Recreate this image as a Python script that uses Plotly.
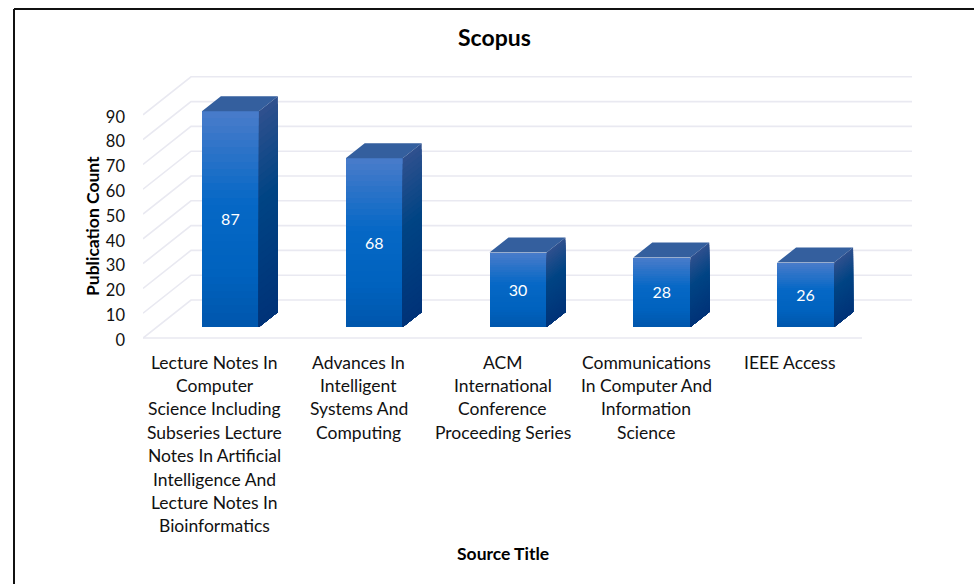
import plotly.graph_objects as go

# ---- data ----
category_lines = [
    ["Lecture Notes In", "Computer", "Science Including", "Subseries Lecture",
     "Notes In Artificial", "Intelligence And", "Lecture Notes In", "Bioinformatics"],
    ["Advances In", "Intelligent", "Systems And", "Computing"],
    ["ACM", "International", "Conference", "Proceeding Series"],
    ["Communications", "In Computer And", "Information", "Science"],
    ["IEEE Access"],
]
publication_counts = [87, 68, 30, 28, 26]
y_ticks = [0, 10, 20, 30, 40, 50, 60, 70, 80, 90]

# ---- geometry of the oblique projection ----
W, H = 974, 584
PX_X = 143.8           # pixels per category
PX_Y = 2.48            # pixels per count
L, R, T, B = 143, 912, 70, 346   # plot box, a little wider than the drawing
ZERO_PX = 338                    # pixel row of count 0
x_lo = -0.5
x_hi = x_lo + (R - L) / PX_X
y_lo = (ZERO_PX - B) / PX_Y
y_hi = (ZERO_PX - T) / PX_Y
WALL_DX, WALL_DY = 48 / PX_X, 38 / PX_Y       # floor depth
FLOOR_END = x_lo + 5
BAR_OFF = 15.5 / PX_X
BAR_W = 57 / PX_X
BAR_BASE = 11 / PX_Y
BAR_DX, BAR_DY = 19 / PX_X, 15 / PX_Y         # bar depth
LABEL_DROP = 2 / PX_Y
N = 30
GRID = "#e9e9f1"

FRONT = [(0, (74, 124, 202)), (0.42, (6, 104, 198)), (0.75, (0, 98, 190)), (1, (0, 86, 172))]
SIDE = [(0, (48, 80, 142)), (0.42, (0, 68, 132)), (1, (0, 50, 120))]


def ramp(stops, t):
    for (a, ca), (b, cb) in zip(stops, stops[1:]):
        if t <= b:
            f = (t - a) / (b - a)
            return "rgb(%d,%d,%d)" % tuple(round(p + (q - p) * f) for p, q in zip(ca, cb))
    return "rgb(%d,%d,%d)" % stops[-1][1]


def px(xp):
    return (xp - L) / (R - L)


def py(yp):
    return (B - yp) / (B - T)


fig = go.Figure()

# gridlines sit under the bars: front edge -> back wall -> right end
shapes = []
for v in y_ticks:
    shapes.append(dict(type="path", xref="x", yref="y", layer="below",
                       path=f"M {x_lo} {v} L {x_lo + WALL_DX} {v + WALL_DY} L {x_hi} {v + WALL_DY}",
                       line=dict(color=GRID, width=1.6)))
shapes.append(dict(type="line", xref="x", yref="y", layer="below", x0=x_lo, x1=FLOOR_END, y0=0, y1=0,
                   line=dict(color=GRID, width=1.6)))

positions = list(range(len(publication_counts)))
right = [p + BAR_OFF + BAR_W / 2 for p in positions]
left = [p + BAR_OFF - BAR_W / 2 for p in positions]

# top faces
tx, ty = [], []
for l, r, v in zip(left, right, publication_counts):
    top = BAR_BASE + v
    tx += [l, r, r + BAR_DX, l + BAR_DX, l, None]
    ty += [top, top, top + BAR_DY, top + BAR_DY, top, None]
fig.add_trace(go.Scatter(x=tx, y=ty, mode="lines", fill="toself", fillcolor="#345f9e", line=dict(width=0),
                         cliponaxis=False, hoverinfo="skip", showlegend=False))

# graded front and side faces, painted from the full height down
for k in range(N):
    share = 1 - k / N
    t = (k + 0.5) / N
    fig.add_trace(go.Bar(x=[p + BAR_OFF for p in positions], y=[v * share for v in publication_counts],
                         base=[BAR_BASE] * len(positions), width=BAR_W, hoverinfo="skip", showlegend=False,
                         marker=dict(color=ramp(FRONT, t), line=dict(width=0))))
    sx, sy = [], []
    for r, v in zip(right, publication_counts):
        h = v * share
        sx += [r, r + BAR_DX, r + BAR_DX, r, r, None]
        sy += [BAR_BASE, BAR_BASE + BAR_DY, BAR_BASE + BAR_DY + h, BAR_BASE + h, BAR_BASE, None]
    fig.add_trace(go.Scatter(x=sx, y=sy, mode="lines", fill="toself", fillcolor=ramp(SIDE, t), line=dict(width=0),
                             cliponaxis=False, hoverinfo="skip", showlegend=False))

# data labels
fig.add_trace(go.Scatter(x=[p + BAR_OFF for p in positions],
                         y=[BAR_BASE + v / 2 - LABEL_DROP for v in publication_counts],
                         text=[str(v) for v in publication_counts], mode="text", textposition="middle center",
                         textfont=dict(family="Lato", size=16, color="white"),
                         cliponaxis=False, hoverinfo="skip", showlegend=False))

# category labels, one annotation per wrapped line
annotations = []
for p, lines in zip(positions, category_lines):
    for n, line in enumerate(lines):
        annotations.append(dict(x=p, y=py(362 + n * 23.4), xref="x", yref="paper", text=line, showarrow=False,
                                xanchor="center", yanchor="middle",
                                font=dict(family="Lato", size=17.5, color="#111111")))

annotations += [
    dict(x=px(494), y=py(37), xref="paper", yref="paper", text="<b>Scopus</b>", showarrow=False,
         xanchor="center", yanchor="middle", font=dict(family="Lato", size=23, color="#000000")),
    dict(x=px(503), y=py(553), xref="paper", yref="paper", text="<b>Source Title</b>", showarrow=False,
         xanchor="center", yanchor="middle", font=dict(family="Lato", size=17.5, color="#000000")),
    dict(x=px(92), y=py(226), xref="paper", yref="paper", text="<b>Publication Count</b>", showarrow=False,
         xanchor="center", yanchor="middle", textangle=-90, font=dict(family="Lato", size=17.5, color="#000000")),
]

shapes += [
    dict(type="line", xref="paper", yref="paper", x0=px(14), x1=px(14), y0=py(9), y1=py(H),
         line=dict(color="#111111", width=2)),
    dict(type="line", xref="paper", yref="paper", x0=px(14), x1=px(W), y0=py(9), y1=py(9),
         line=dict(color="#111111", width=2)),
]

fig.update_layout(
    width=W, height=H, margin=dict(l=L, r=W - R, t=T, b=H - B),
    paper_bgcolor="white", plot_bgcolor="white", barmode="overlay", bargap=0,
    showlegend=False, annotations=annotations, shapes=shapes,
    xaxis=dict(range=[x_lo, x_hi], showgrid=False, zeroline=False, showline=False, showticklabels=False, ticks=""),
    yaxis=dict(range=[y_lo, y_hi], tickvals=y_ticks, showgrid=False, zeroline=False, showline=False, ticks="",
               ticklabelstandoff=17, ticklabelshift=2, tickfont=dict(family="Lato", size=16.5, color="#111111")),
)

fig.write_html("out.html", config=dict(displayModeBar=False),
               post_script="document.body.style.margin='0';")
